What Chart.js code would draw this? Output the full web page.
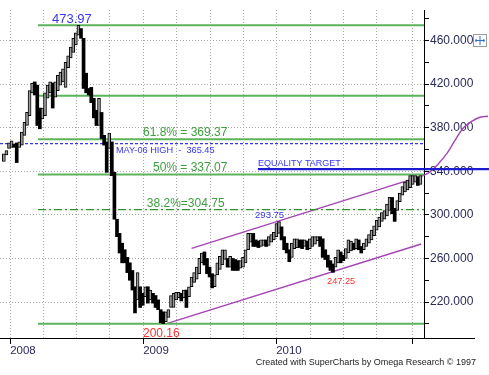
<!DOCTYPE html>
<html><head><meta charset="utf-8">
<script src="https://cdn.jsdelivr.net/npm/chart.js@4.4.0/dist/chart.umd.min.js"></script>
<style>html,body{margin:0;padding:0;background:#fff}#wrap{width:489px;height:375px;position:relative}</style>
</head><body><div id="wrap"><canvas id="c" width="489" height="375"></canvas></div>
<script>
// ---- DATA (weekly bars, x = week index from mid-Dec 2007) ----
const weekHighs = [356,359,366,368,365,366,367,376,385,394,414,421,422,419,398,398,412,419,422,421,
422,428,431,434,440,446,454,462,467,473.97,471,462,430,416,417,407,396,407,394,373,
367,375,367,339,296,283,274,268,261,256,249,234,247,234,228,234,234,231,228,226,
222,213,211,211,213,226,228,229,229,228,231,231,234,243,247,252,260,265,266,260,
252,246,245,256,262,268,268,260,262,260,259,258,258,261,268,283,283,283,277,276,
277,277,277,280,282,284,292,293.75,289,280,274,268,274,278,278,277,277,277,276,278,
280,280,280,280,278,268,263,258,255,261,268,266,263,269,277,276,274,278,277,271,
274,278,282,286,290,295,298,302,304,310,316,316,306,313,320,326,330,332,336,336,
336,335,336];
const weekLows = [349,355,361,362,362,348,362,364,373,382,391,412,410,382,379,388,391,407,412,398,
408,414,419,422,417,435,444,449,456,465,462,416,412,410,403,389,382,382,370,364,
339,361,336,296,280,265,256,256,247,240,231,210,222,215,217,225,219,222,219,215,
213,201,200.16,202,206,215,215,222,224,221,224,215,225,234,238,241,246,256,254,246,
243,233,234,245,250,254,259,252,252,249,249,249,251,252,256,268,275,271,271,270,
271,272,271,272,275,277,280,283,277,268,265,257,261,269,270,270,269,271,268,269,
271,273,276,271,261,259,252,249,247.25,252,256,256,258,260,265,267,268,269,268,265,
268,271,274,277,281,286,289,294,296,299,304,301,294,304,312,318,321,323,325,328,
330,327,328];
const quarterTicks = [2.45,15.3,28.3,41.2,54.2,67.2,80.2,93.1,105.9,119.1,132.0,145.0,158.9];
const quarterLabels = ['2008','','','','2009','','','','2010','','','',''];
const yearTicks = [2.45,54.2,105.9,158.9];
const priceTicks = [200,220,240,260,280,300,320,340,360,380,400,420,440,460,480];
const priceLabelTicks = [220,260,300,340,380,420,460];
const greenLevels = [473.97,409.35,369.37,337.07,200.16];
const level382 = 304.75;
const may06High = 365.45;
const equalityTarget = 341.9;
const upperChannel = [{x:73.0,y:269.2},{x:162.5,y:335.5}];
const lowerChannel = [{x:63.3,y:200.2},{x:162.3,y:273.3}];
const projectionCurve = [{x:162.5,y:335.5},{x:165.5,y:339},{x:168.5,y:345.6},{x:172.4,y:356.6},{x:175.5,y:368.5},{x:178.6,y:379.5},{x:182.1,y:386},{x:185.2,y:389.6},{x:188.3,y:390.5}];
const weekRange = [-1.5,163.4];
const levelStartWeek = 13.3;
const equalityRange = [98.8,188.7];
const noteTexts = ['473.97','61.8% = 369.37','MAY-06 HIGH  -  365.45','50% = 337.07','38.2%=304.75','EQUALITY TARGET','293.75','200.16','247.25'];
const noteAnchorsX = [18.7,54.1,43.6,58.0,55.6,98.8,97.7,54.1,125.7];
const noteAnchorsY = [475.9,372.2,356.6,340.1,307.1,344.7,297.0,187.8,236.6];
const footerText = 'Created with SuperCharts by Omega Research \u00A9 1997';

// ---- STYLES ----
const FONT = '"Liberation Sans", Arial, sans-serif';
const GREEN = '#5cb35c', GREEN_TXT = '#3d9f3d', BLUE = '#3636f0', RED = '#ff3030', PURPLE = '#a544b5';
const noteStyles = [
  {c:BLUE,s:13},{c:GREEN_TXT,s:12},{c:BLUE,s:9.2},{c:GREEN_TXT,s:12},{c:GREEN_TXT,s:12},
  {c:BLUE,s:9},{c:BLUE,s:9.5},{c:RED,s:12},{c:RED,s:9.2}
];

const bars = weekHighs.map((h,i)=>({x:i, y:[weekLows[i], h]}));
const isUp = bars.map((b,i)=> i===0 || weekHighs[i]+weekLows[i] >= weekHighs[i-1]+weekLows[i-1]);
const barColors = isUp.map(u=> u ? '#9c9c9c' : '#000000');

function hLine(v, x0, x1){ return [{x:x0,y:v},{x:x1,y:v}]; }
const lineBase = {type:'line', pointRadius:0, fill:false, tension:0, order:2};

const datasets = [
  {type:'bar', data:bars, backgroundColor:barColors, borderColor:'#000', borderWidth:isUp.map(u=>u?1:0),
   borderSkipped:false, barThickness:3, order:0, grouped:false}
];
greenLevels.forEach(v=>datasets.push(Object.assign({}, lineBase, {data:hLine(v, levelStartWeek, weekRange[1]), borderColor:GREEN, borderWidth:2})));
datasets.push(Object.assign({}, lineBase, {data:hLine(level382, levelStartWeek, weekRange[1]), borderColor:'#2e8f2e', borderWidth:1.3, borderDash:[8,3,2,3]}));
datasets.push(Object.assign({}, lineBase, {data:hLine(may06High, weekRange[0], weekRange[1]), borderColor:BLUE, borderWidth:1.3, borderDash:[3,2]}));
datasets.push(Object.assign({}, lineBase, {data:hLine(equalityTarget, equalityRange[0], equalityRange[1]), borderColor:'#1c1cd0', borderWidth:2.2, clip:false}));
datasets.push(Object.assign({}, lineBase, {data:upperChannel, borderColor:PURPLE, borderWidth:1.4}));
datasets.push(Object.assign({}, lineBase, {data:lowerChannel, borderColor:PURPLE, borderWidth:1.4}));
// listed right-to-left so every point is kept when drawn outside the plot area
datasets.push(Object.assign({}, lineBase, {data:projectionCurve.slice().reverse(), borderColor:PURPLE, borderWidth:1.4, clip:false, tension:0.4}));

const extras = {
  id:'extras',
  afterDraw(chart){
    const {ctx, scales:{x,y}, chartArea} = chart;
    ctx.save();
    ctx.strokeStyle='#000'; ctx.lineWidth=1;
    ctx.beginPath(); ctx.moveTo(chartArea.right, Math.round(chartArea.bottom)+0.5); ctx.lineTo(475, Math.round(chartArea.bottom)+0.5); ctx.stroke();
    ctx.textBaseline='alphabetic'; ctx.textAlign='left';
    noteTexts.forEach((t,i)=>{
      ctx.fillStyle = noteStyles[i].c;
      ctx.font = noteStyles[i].s + 'px ' + FONT;
      ctx.fillText(t, x.getPixelForValue(noteAnchorsX[i]), y.getPixelForValue(noteAnchorsY[i]));
    });
    ctx.fillStyle='#222'; ctx.font='9px '+FONT; ctx.textAlign='right';
    ctx.fillText(footerText, 476, 365);
    ctx.strokeStyle='#9a9a9a'; ctx.lineWidth=1;
    ctx.strokeRect(473.5,34.5,13,12);
    ctx.strokeStyle='#2a6fd0';
    ctx.beginPath();
    ctx.moveTo(475.5,40.5); ctx.lineTo(484.5,40.5);
    ctx.moveTo(480,36); ctx.lineTo(480,45);
    ctx.moveTo(476.5,39); ctx.lineTo(475.5,40.5); ctx.lineTo(476.5,42);
    ctx.moveTo(483.5,39); ctx.lineTo(484.5,40.5); ctx.lineTo(483.5,42);
    ctx.stroke();
    ctx.restore();
  }
};

new Chart(document.getElementById('c'), {
  type:'bar',
  data:{datasets},
  options:{
    responsive:false, animation:false, devicePixelRatio:1,
    layout:{padding:{top:10,left:0,right:0,bottom:0}},
    plugins:{legend:{display:false}, tooltip:{enabled:false}, title:{display:false}},
    scales:{
      x:{
        type:'linear', min:weekRange[0], max:weekRange[1], offset:false,
        afterBuildTicks:s=>{ s.ticks = quarterTicks.map(v=>({value:v})); },
        ticks:{callback:(v,i)=>quarterLabels[i], align:'start', padding:0, maxRotation:0, autoSkip:false,
               color:'#2a2a5a', font:{size:11.5, family:FONT}},
        grid:{color:'#a8a8a8', lineWidth:1, tickLength:6, offset:false,
              tickColor:c=> (c.tick && yearTicks.includes(c.tick.value)) ? '#000' : 'rgba(0,0,0,0)'},
        border:{display:true, color:'#000', width:1, dash:[1,2]},
        afterFit:s=>{ s.height = 37; }
      },
      y:{
        type:'linear', position:'right', min:187, max:488,
        afterBuildTicks:s=>{ s.ticks = priceTicks.map(v=>({value:v})); },
        ticks:{callback:v=> priceLabelTicks.includes(v) ? v.toFixed(3) : '', padding:1, autoSkip:false,
               color:'#2a2a5a', font:{size:12, family:FONT}},
        grid:{color:c=> (c.tick && priceLabelTicks.includes(c.tick.value)) ? '#a8a8a8' : 'rgba(0,0,0,0)',
              tickLength:5, tickColor:'#000', lineWidth:1},
        border:{display:true, color:'#000', width:1, dash:[1,2]},
        afterFit:s=>{ s.width = 65; }
      }
    }
  },
  plugins:[extras]
});
</script></body></html>
